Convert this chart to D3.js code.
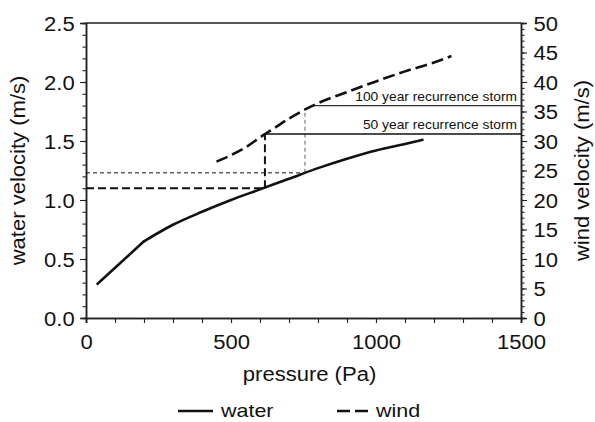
<!DOCTYPE html>
<html>
<head>
<meta charset="utf-8">
<script src="https://cdn.jsdelivr.net/npm/d3@7"></script>
<style>
  body { margin: 0; background: #fff; }
  text { font-family: "Liberation Sans", Arial, sans-serif; fill: #111; }
</style>
</head>
<body>
<script>
// water velocity vs pressure (left axis)
var waterP = [40, 200, 300, 400, 500, 600, 700, 800, 900, 1000, 1100, 1160];
var waterV = [0.29, 0.65, 0.79, 0.90, 1.00, 1.09, 1.18, 1.27, 1.35, 1.42, 1.475, 1.51];

// wind velocity vs pressure (right axis)
var windP = [450, 500, 550, 600, 650, 700, 750, 800, 900, 1000, 1100, 1200, 1260];
var windV = [26.5, 27.6, 28.9, 30.6, 32.2, 33.8, 35.2, 36.4, 38.3, 40.1, 41.8, 43.3, 44.4];

// recurrence storms
var stormLabels = ["50 year recurrence storm", "100 year recurrence storm"];
var stormPressure = [617, 755];
var stormWater = [1.10, 1.23];
var stormWind = [31.2, 36];

var xTicks = [0, 500, 1000, 1500];
var leftTicks = [0, 0.5, 1.0, 1.5, 2.0, 2.5];
var rightTicks = [0, 5, 10, 15, 20, 25, 30, 35, 40, 45, 50];

var W = 595, H = 422;
var X0 = 86, X1 = 521, Y0 = 318, Y1 = 23;
var SX = 1.13; // horizontal stretch of the original lettering

var svg = d3.select("body")
    .append("svg")
    .attr("width", W)
    .attr("height", H);

var x = d3.scaleLinear().domain([0, 1500]).range([X0, X1]);
var yL = d3.scaleLinear().domain([0, 2.5]).range([Y0, Y1]);
var yR = d3.scaleLinear().domain([0, 50]).range([Y0, Y1]);

function windAt(p) {
    return d3.scaleLinear().domain(windP).range(windV).clamp(true)(p);
}
function pressureAtWind(w) {
    return d3.scaleLinear().domain(windV).range(windP).clamp(true)(w);
}

// top frame line
svg.append("line")
    .attr("x1", X0).attr("x2", X1)
    .attr("y1", Y1).attr("y2", Y1)
    .attr("stroke", "#222").attr("stroke-width", 1.3);

// minor ticks
svg.append("g")
    .attr("transform", `translate(${X0},0)`)
    .call(d3.axisLeft(yL).tickValues(d3.range(0, 2.51, 0.1)).tickSize(3.5).tickFormat(""));
svg.append("g")
    .attr("transform", `translate(${X1},0)`)
    .call(d3.axisRight(yR).tickValues(d3.range(0, 50.1, 1)).tickSize(3.5).tickFormat(""));
svg.append("g")
    .attr("transform", `translate(0,${Y0})`)
    .call(d3.axisBottom(x).tickValues(d3.range(0, 1501, 100)).tickSize(5).tickFormat(""));

// major axes
var gl = svg.append("g")
    .attr("transform", `translate(${X0},0)`)
    .call(d3.axisLeft(yL).tickValues(leftTicks).tickSize(6).tickPadding(4).tickFormat(d3.format(".1f")));
var gr = svg.append("g")
    .attr("transform", `translate(${X1},0)`)
    .call(d3.axisRight(yR).tickValues(rightTicks).tickSize(6).tickPadding(5).tickFormat(d3.format("d")));
var gb = svg.append("g")
    .attr("transform", `translate(0,${Y0})`)
    .call(d3.axisBottom(x).tickValues(xTicks).tickSize(5).tickPadding(12).tickFormat(d3.format("d")));

svg.selectAll(".domain").attr("stroke", "#222").attr("stroke-width", 1.5);
svg.selectAll(".tick line").attr("stroke", "#222").attr("stroke-width", 1.1);
svg.selectAll(".tick text")
    .style("font-family", "Liberation Sans, Arial, sans-serif")
    .style("font-size", "19.5px")
    .attr("fill", "#111");
gl.selectAll(".tick text").attr("dy", "0.36em").attr("transform", `scale(${SX},1)`);
gr.selectAll(".tick text").attr("dy", "0.36em").attr("transform", `scale(${SX},1)`);
gb.selectAll(".tick text").attr("transform", `scale(${SX},1)`);

// axis titles
svg.append("text")
    .attr("transform", `translate(25,${(Y0 + Y1) / 2}) rotate(-90) scale(${SX},1)`)
    .attr("text-anchor", "middle")
    .style("font-size", "19.5px")
    .text("water velocity (m/s)");
svg.append("text")
    .attr("transform", `translate(589,${(Y0 + Y1) / 2}) rotate(-90) scale(${SX},1)`)
    .attr("text-anchor", "middle")
    .style("font-size", "19.5px")
    .text("wind velocity (m/s)");
svg.append("text")
    .attr("transform", `translate(${(X0 + X1) / 2 + 6},381) scale(${SX},1)`)
    .attr("text-anchor", "middle")
    .style("font-size", "19.5px")
    .text("pressure (Pa)");

// reference lines for the storms
var storms = stormLabels.map((label, i) => ({
    label: label,
    p: stormPressure[i],
    water: stormWater[i],
    wind: stormWind[i]
}));

// horizontal dashed lines from the left axis to the water curve
svg.append("line")
    .attr("x1", X0).attr("x2", x(storms[0].p))
    .attr("y1", yL(storms[0].water)).attr("y2", yL(storms[0].water))
    .attr("stroke", "#111").attr("stroke-width", 2).attr("stroke-dasharray", "8,4");
svg.append("line")
    .attr("x1", X0).attr("x2", x(storms[1].p))
    .attr("y1", yL(storms[1].water)).attr("y2", yL(storms[1].water))
    .attr("stroke", "#111").attr("stroke-width", 1).attr("stroke-dasharray", "4,3");

// vertical dashed lines from water curve up to the wind curve
svg.append("line")
    .attr("x1", x(storms[0].p)).attr("x2", x(storms[0].p))
    .attr("y1", yL(storms[0].water)).attr("y2", yR(storms[0].wind))
    .attr("stroke", "#111").attr("stroke-width", 2).attr("stroke-dasharray", "8,4");
svg.append("line")
    .attr("x1", x(storms[1].p)).attr("x2", x(storms[1].p))
    .attr("y1", yL(storms[1].water)).attr("y2", yR(windAt(storms[1].p)))
    .attr("stroke", "#888").attr("stroke-width", 1.3).attr("stroke-dasharray", "4,3");

// storm horizontal solid lines to the right axis
svg.append("line")
    .attr("x1", x(storms[0].p)).attr("x2", X1)
    .attr("y1", yR(storms[0].wind)).attr("y2", yR(storms[0].wind))
    .attr("stroke", "#111").attr("stroke-width", 1.5);
svg.append("line")
    .attr("x1", x(pressureAtWind(storms[1].wind))).attr("x2", X1)
    .attr("y1", yR(storms[1].wind)).attr("y2", yR(storms[1].wind))
    .attr("stroke", "#333").attr("stroke-width", 1.1);

svg.selectAll("text.storm")
    .data(storms)
    .enter()
    .append("text")
    .attr("class", "storm")
    .attr("transform", d => `translate(517,${yR(d.wind) - 5}) scale(1.15,1)`)
    .attr("text-anchor", "end")
    .style("font-size", "12px")
    .text(d => d.label);

// data lines
var water = waterP.map((p, i) => [p, waterV[i]]);
var wind = windP.map((p, i) => [p, windV[i]]);

// water: straight first segment, smooth afterwards (kink at 200 Pa)
var lineW = d3.line().x(d => x(d[0])).y(d => yL(d[1]));
svg.append("path")
    .datum(water.slice(0, 2))
    .attr("fill", "none")
    .attr("stroke", "#111")
    .attr("stroke-width", 2.6)
    .attr("stroke-linecap", "round")
    .attr("d", lineW);
svg.append("path")
    .datum(water.slice(1))
    .attr("fill", "none")
    .attr("stroke", "#111")
    .attr("stroke-width", 2.6)
    .attr("stroke-linecap", "round")
    .attr("d", lineW.curve(d3.curveMonotoneX));

svg.append("path")
    .datum(wind)
    .attr("fill", "none")
    .attr("stroke", "#111")
    .attr("stroke-width", 2.6)
    .attr("stroke-dasharray", "12,5")
    .attr("d", d3.line().x(d => x(d[0])).y(d => yR(d[1])).curve(d3.curveMonotoneX));

// legend
var legend = svg.append("g");
legend.append("line")
    .attr("x1", 178).attr("x2", 213).attr("y1", 411).attr("y2", 411)
    .attr("stroke", "#111").attr("stroke-width", 2.6);
legend.append("text")
    .attr("transform", `translate(221,417) scale(${SX},1)`)
    .style("font-size", "19px")
    .text("water");
legend.append("line")
    .attr("x1", 337).attr("x2", 368).attr("y1", 411).attr("y2", 411)
    .attr("stroke", "#111").attr("stroke-width", 2.6)
    .attr("stroke-dasharray", "13,5");
legend.append("text")
    .attr("transform", `translate(376,417) scale(${SX},1)`)
    .style("font-size", "19px")
    .text("wind");
</script>
</body>
</html>
